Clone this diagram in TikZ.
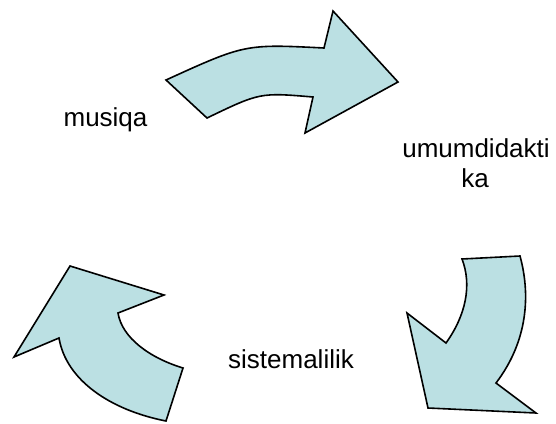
\documentclass[tikz,border=0pt]{standalone}
\usepackage{fontspec}
\setmainfont{Liberation Sans}
\definecolor{arrowfill}{RGB}{187,224,227}
\begin{document}
\begin{tikzpicture}[x=1pt,y=-1pt,
  curvedarrow/.style={fill=arrowfill,draw=black,line width=1.6pt,line join=miter},
  lbl/.style={inner sep=0pt,font=\fontsize{26}{30}\selectfont}]
\useasboundingbox (0,0) rectangle (556,423);
% top arrow
\draw[curvedarrow] (166,80) .. controls (245,44) .. (324,48) -- (333,11) -- (398,82)
  -- (305,133) -- (313,97) .. controls (260,92.5) .. (207,118) -- cycle;
% bottom-right arrow
\draw[curvedarrow] (462,259) -- (520,256) .. controls (532,300) and (525,345) .. (496,383)
  -- (536,413) -- (428,408) -- (407,313) -- (446,343)
  .. controls (466,315) and (472,285) .. (462,259) -- cycle;
% bottom-left arrow
\draw[curvedarrow] (166,421) -- (183,368) .. controls (150,358) and (122,338) .. (118,313)
  -- (164,295) -- (70,266) -- (14,357) -- (59,338)
  .. controls (66,380) and (110,410) .. (166,421) -- cycle;
% labels
\node[lbl,anchor=base] (musiqa) at (105.5,126) {musiqa};
\node[lbl,anchor=base] (umum) at (476,157) {umumdidakti};
\node[lbl,anchor=base] (ka) at (475,187) {ka};
\node[lbl,anchor=base] (sist) at (291,368) {sistemalilik};
\end{tikzpicture}
\end{document}
